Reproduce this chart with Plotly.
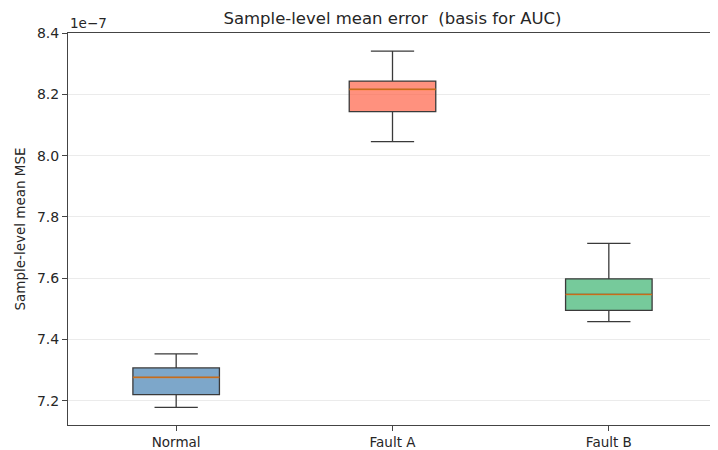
import plotly.graph_objects as go

# Values, in units of 1e-7
categories = ["Normal", "Fault A", "Fault B"]
q1 = [7.220, 8.144, 7.495]
median = [7.276, 8.217, 7.547]
q3 = [7.307, 8.244, 7.598]
lower_whisker = [7.178, 8.046, 7.458]
upper_whisker = [7.353, 8.342, 7.714]
tick_values = [7.2, 7.4, 7.6, 7.8, 8.0, 8.2, 8.4]
tick_labels = ["7.2", "7.4", "7.6", "7.8", "8.0", "8.2", "8.4"]
fill_colors = ["rgba(70,130,180,0.7)", "rgba(255,99,71,0.7)", "rgba(60,179,113,0.7)"]

positions = list(range(1, len(categories) + 1))
box_width = 0.4

fig = go.Figure()
for i, cat in enumerate(categories):
    fig.add_trace(go.Box(
        x=[positions[i]],
        q1=[q1[i]], median=[median[i]], q3=[q3[i]],
        lowerfence=[lower_whisker[i]], upperfence=[upper_whisker[i]],
        width=box_width, whiskerwidth=0.5,
        fillcolor=fill_colors[i],
        line=dict(color="#3a3a3a", width=1.3),
        name=cat, showlegend=False, hoverinfo="skip",
    ))

# Median lines (orange) on top of the boxes
mx, my = [], []
for i in range(len(categories)):
    mx += [positions[i] - box_width / 2, positions[i] + box_width / 2, None]
    my += [median[i], median[i], None]
fig.add_trace(go.Scatter(x=mx, y=my, mode="lines",
                         line=dict(color="rgba(255,127,14,0.72)", width=1.6),
                         showlegend=False, hoverinfo="skip"))

# the page body adds an 8px offset, so the figure is sized 710x442
W, H = 710, 442
font = "DejaVu Sans, Arial, sans-serif"
fig.update_layout(
    width=W, height=H,
    margin=dict(l=60, r=0, t=25, b=18),
    paper_bgcolor="white", plot_bgcolor="white",
    font=dict(family=font, size=14, color="#262626"),
    title=dict(text="Sample-level mean error  (basis for AUC)",
               x=0.5, xanchor="center", xref="paper",
               y=1 - 10 / H, yanchor="middle",
               font=dict(size=16.5, family=font, color="#262626")),
    xaxis=dict(range=[0.5, 3.5], tickvals=positions, ticktext=categories,
               showgrid=False, zeroline=False,
               showline=True, mirror=True, linecolor="#444", linewidth=1.1,
               ticks="outside", ticklen=5, tickcolor="#444",
               tickfont=dict(size=13.5)),
    yaxis=dict(range=[7.1205, 8.401], tickvals=tick_values, ticktext=tick_labels,
               showgrid=True, gridcolor="rgba(0,0,0,0.08)", gridwidth=1,
               zeroline=False,
               showline=True, mirror=True, linecolor="#444", linewidth=1.1,
               ticks="outside", ticklen=5, tickcolor="#444",
               tickfont=dict(size=14),
               title=dict(text="Sample-level mean MSE", font=dict(size=13.5), standoff=8)),
    annotations=[dict(text="1e\u22127", xref="paper", yref="paper", x=0, y=1,
                      xanchor="left", yanchor="bottom", showarrow=False,
                      font=dict(size=13.5, family=font, color="#262626"))],
)

fig.write_html("out.html")
